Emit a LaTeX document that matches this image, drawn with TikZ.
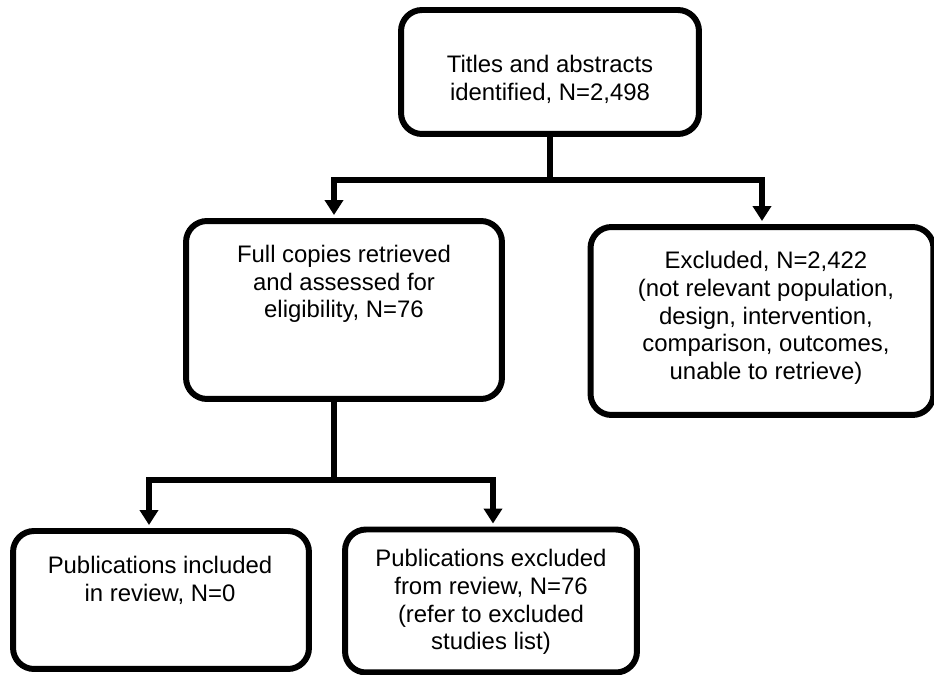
\documentclass[tikz,border=0pt]{standalone}
\usepackage{fontspec}
\setmainfont{Liberation Sans}
\usetikzlibrary{arrows.meta,positioning}

\begin{document}
\begin{tikzpicture}[x=0.02cm,y=-0.02cm,
        every node/.style={align=center,font=\fontsize{13.6}{15.8}\selectfont},
        box/.style={draw,line width=3.4pt,rounded corners=0.42cm,inner sep=0pt},
        conn/.style={line width=3.4pt},
        arr/.style={line width=3.4pt,shorten >=1.7pt,-{Triangle[width=0.36cm,length=0.3cm]}}]
        \useasboundingbox (0,0) rectangle (934,675);

        % boxes
        \node[box,minimum width=5.96cm,minimum height=2.48cm] (titles) at (550,72) {};
        \node[box,minimum width=6.32cm,minimum height=3.56cm] (full) at (344,310) {};
        \node[box,minimum width=6.86cm,minimum height=3.76cm] (excl) at (762,321) {};
        \node[box,minimum width=5.92cm,minimum height=2.76cm] (incl) at (161,600) {};
        \node[box,minimum width=5.84cm,minimum height=2.86cm] (pubexcl) at (491,601) {};

        % texts
        \node (titlestxt) at (550,79) {Titles and abstracts\\identified, N=2,498};
        \node (fulltxt) at (344,284) {Full copies retrieved\\and assessed for\\eligibility, N=76};
        \node (excltxt) at (766,318) {Excluded, N=2,422\\(not relevant population,\\design, intervention,\\comparison, outcomes,\\unable to retrieve)};
        \node (incltxt) at (160,580) {Publications included\\in review, N=0};
        \node (pubexcltxt) at (491,602) {Publications excluded\\from review, N=76\\(refer to excluded\\studies list)};

        % connectors
        \coordinate (split1) at (550,180);
        \coordinate (split2) at (334,480);
        \draw[conn] (titles.south) -- (split1);
        \draw[arr] (split1) -| ([xshift=-0.2cm]full.north);
        \draw[arr] (split1) -| (excl.north);
        \draw[conn] ([xshift=-0.2cm]full.south) -- (split2);
        \draw[arr] (split2) -| ([xshift=-0.24cm]incl.north);
        \draw[arr] (split2) -| ([xshift=0.04cm]pubexcl.north);

\end{tikzpicture}
\end{document}
